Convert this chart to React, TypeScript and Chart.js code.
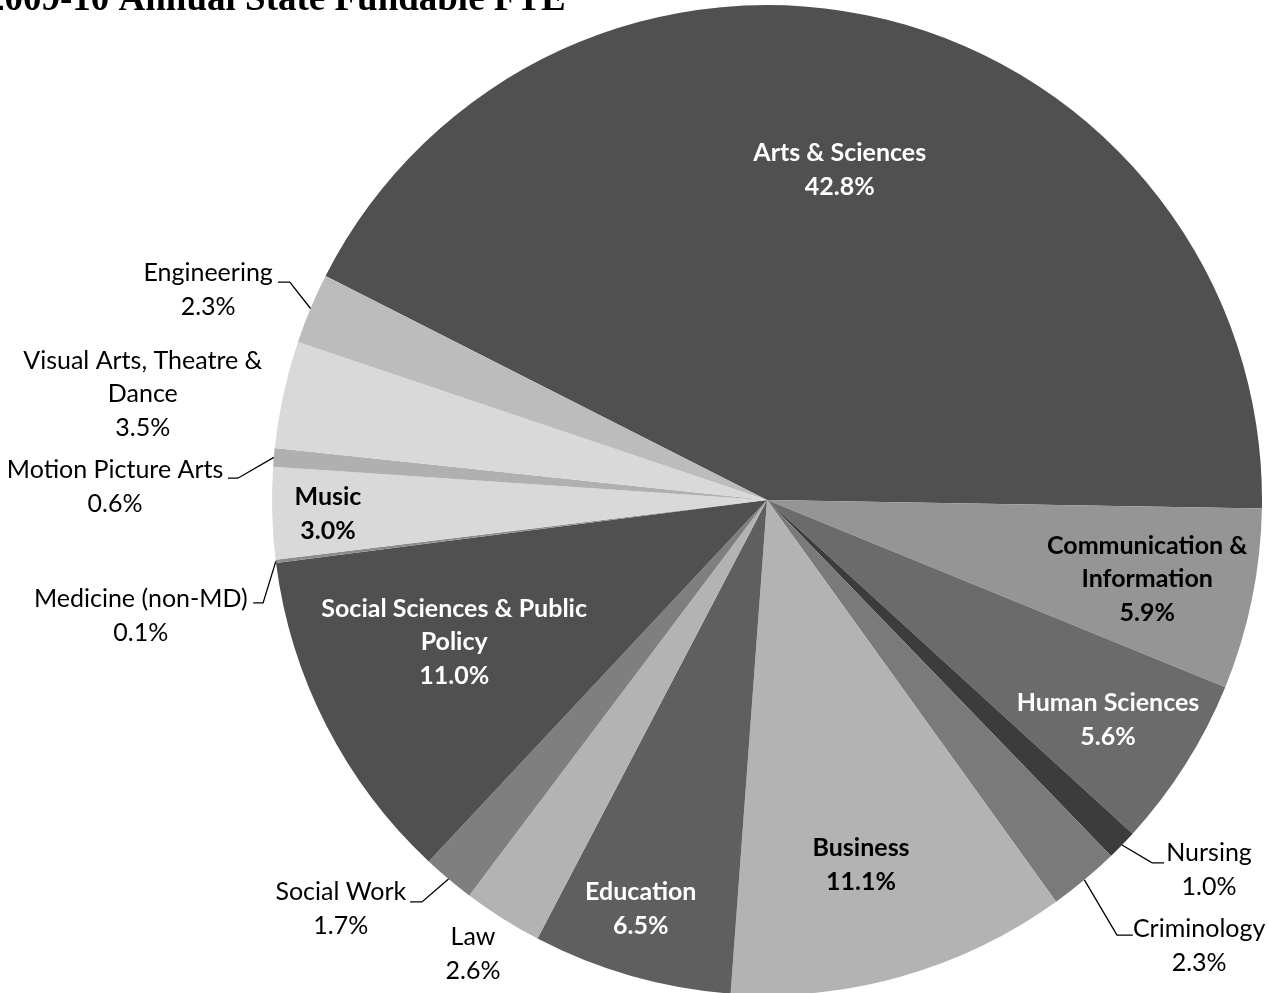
import React, { useEffect, useRef } from "react";
import { Chart, registerables } from "chart.js";

Chart.register(...registerables);

const TITLE = "2009-10 Annual State Fundable FTE";

const categories = [
  "Arts & Sciences",
  "Communication & Information",
  "Human Sciences",
  "Nursing",
  "Criminology",
  "Business",
  "Education",
  "Law",
  "Social Work",
  "Social Sciences & Public Policy",
  "Medicine (non-MD)",
  "Music",
  "Motion Picture Arts",
  "Visual Arts, Theatre & Dance",
  "Engineering",
];

const shares = [42.8, 5.9, 5.6, 1.0, 2.3, 11.1, 6.5, 2.6, 1.7, 11.0, 0.1, 3.0, 0.6, 3.5, 2.3];

const labelLines = [
  ["Arts & Sciences"],
  ["Communication &", "Information"],
  ["Human Sciences"],
  ["Nursing"],
  ["Criminology"],
  ["Business"],
  ["Education"],
  ["Law"],
  ["Social Work"],
  ["Social Sciences & Public", "Policy"],
  ["Medicine (non-MD)"],
  ["Music"],
  ["Motion Picture Arts"],
  ["Visual Arts, Theatre &", "Dance"],
  ["Engineering"],
];

const sliceColors = [
  "#505050", "#959595", "#6b6b6b", "#3c3c3c", "#7a7a7a",
  "#b3b3b3", "#5f5f5f", "#b3b3b3", "#7f7f7f", "#505050",
  "#8c8c8c", "#d9d9d9", "#b0b0b0", "#d9d9d9", "#bcbcbc",
];

// label layout in units of the pie radius, relative to the pie centre
type LabelLayout = {
  pos: [number, number];
  bold: boolean;
  color: string;
  leader?: [[number, number], [number, number]];
};

const labelLayout: LabelLayout[] = [
  { pos: [0.147, -0.667], bold: true, color: "#ffffff" },
  { pos: [0.768, 0.160], bold: true, color: "#000000" },
  { pos: [0.689, 0.444], bold: true, color: "#ffffff" },
  { pos: [0.893, 0.747], bold: false, color: "#000000", leader: [[0.778, 0.733], [0.802, 0.733]] },
  { pos: [0.873, 0.901], bold: false, color: "#000000", leader: [[0.707, 0.879], [0.739, 0.879]] },
  { pos: [0.190, 0.737], bold: true, color: "#000000" },
  { pos: [-0.255, 0.826], bold: true, color: "#ffffff" },
  { pos: [-0.594, 0.917], bold: false, color: "#000000" },
  { pos: [-0.861, 0.826], bold: false, color: "#000000", leader: [[-0.697, 0.812], [-0.721, 0.812]] },
  { pos: [-0.632, 0.287], bold: true, color: "#ffffff" },
  { pos: [-1.265, 0.234], bold: false, color: "#000000", leader: [[-1.018, 0.208], [-1.038, 0.208]] },
  { pos: [-0.887, 0.028], bold: true, color: "#000000" },
  { pos: [-1.317, -0.026], bold: false, color: "#000000", leader: [[-1.069, -0.044], [-1.089, -0.044]] },
  { pos: [-1.261, -0.214], bold: false, color: "#000000" },
  { pos: [-1.129, -0.424], bold: false, color: "#000000", leader: [[-0.964, -0.440], [-0.988, -0.440]] },
];

const FONT_SIZE = 25;
const LINE_H = 33.5;
const FONT_FAMILY = "Lato, 'Open Sans', sans-serif";

const labelPlugin = {
  id: "pieLabels",
  afterDraw(chart: any) {
    const ctx = chart.ctx;
    const meta = chart.getDatasetMeta(0);
    const data = chart.data.datasets[0].data as number[];
    ctx.save();
    // title (partly cropped at the top in the reference)
    ctx.font = "bold 37px 'Liberation Serif', 'Times New Roman', serif";
    ctx.fillStyle = "#000";
    ctx.textAlign = "left";
    ctx.textBaseline = "alphabetic";
    ctx.fillText(TITLE, -14, 10);

    meta.data.forEach((arc: any, i: number) => {
      const { x: cx, y: cy, outerRadius: R, startAngle, endAngle } = arc.getProps(
        ["x", "y", "outerRadius", "startAngle", "endAngle"],
        true
      );
      const lay = labelLayout[i];
      const lx = cx + lay.pos[0] * R;
      const ly = cy + lay.pos[1] * R;
      const lines = [...labelLines[i], data[i].toFixed(1) + "%"];
      if (lay.leader) {
        const mid = (startAngle + endAngle) / 2;
        const sx = cx + Math.cos(mid) * R;
        const sy = cy + Math.sin(mid) * R;
        ctx.beginPath();
        ctx.moveTo(sx, sy);
        ctx.lineTo(cx + lay.leader[0][0] * R, cy + lay.leader[0][1] * R);
        ctx.lineTo(cx + lay.leader[1][0] * R, cy + lay.leader[1][1] * R);
        ctx.strokeStyle = "#000";
        ctx.lineWidth = 1.3;
        ctx.stroke();
      }
      ctx.font = `${lay.bold ? "bold " : ""}${FONT_SIZE}px ${FONT_FAMILY}`;
      ctx.fillStyle = lay.color;
      ctx.textAlign = "center";
      ctx.textBaseline = "middle";
      const top = ly - ((lines.length - 1) * LINE_H) / 2;
      lines.forEach((t, k) => ctx.fillText(t, lx, top + k * LINE_H));
    });
    ctx.restore();
  },
};

export default function App() {
  const ref = useRef<HTMLCanvasElement>(null);
  useEffect(() => {
    if (!ref.current) return;
    const chart = new Chart(ref.current, {
      type: "pie",
      data: {
        labels: categories,
        datasets: [
          {
            data: shares,
            backgroundColor: sliceColors,
            borderWidth: 0,
          },
        ],
      },
      options: {
        responsive: false,
        animation: false,
        rotation: -63.1,
        layout: { padding: { left: 265, right: 0, top: 5, bottom: 5 } },
        plugins: {
          legend: { display: false },
          tooltip: { enabled: false },
          title: { display: false },
        },
      },
      plugins: [labelPlugin],
    });
    return () => chart.destroy();
  }, []);
  return (
    <div style={{ position: "fixed", left: 0, top: 0, width: 1269, height: 993, overflow: "hidden", background: "#fff" }}>
      <canvas ref={ref} width={1269} height={1000} style={{ display: "block" }} />
    </div>
  );
}
